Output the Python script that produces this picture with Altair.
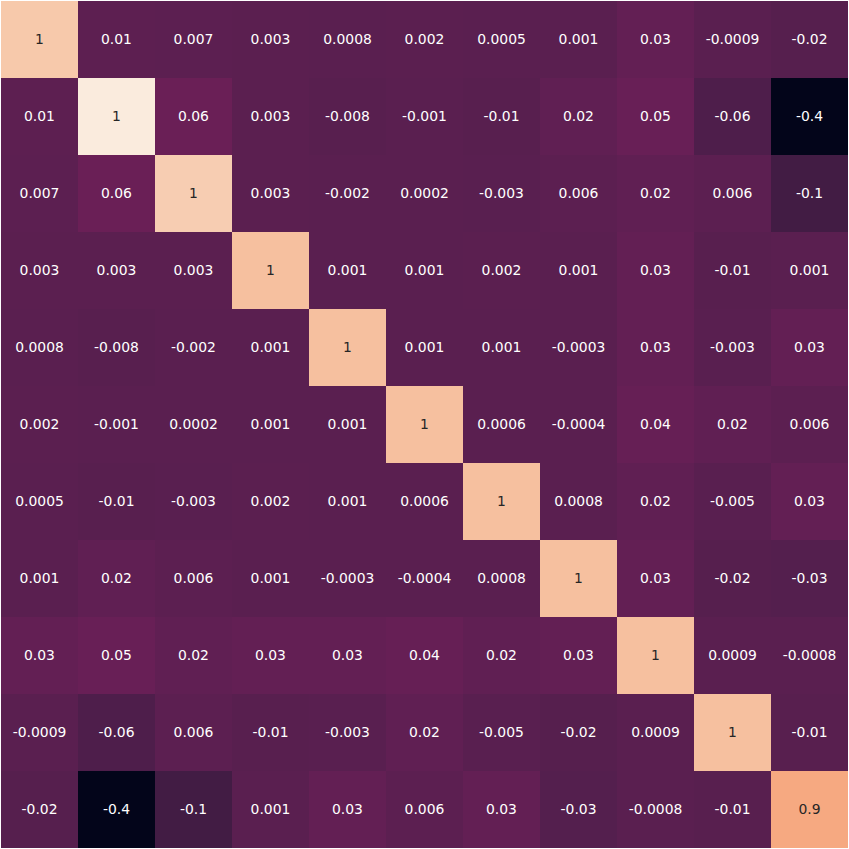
import altair as alt
import pandas as pd

n = 11
row0 = [0.98, 0.01, 0.007, 0.003, 0.0008, 0.002, 0.0005, 0.001, 0.03, -0.0009, -0.02]
row1 = [0.01, 1.02, 0.06, 0.003, -0.008, -0.001, -0.01, 0.02, 0.05, -0.06, -0.4]
row2 = [0.007, 0.06, 0.985, 0.003, -0.002, 0.0002, -0.003, 0.006, 0.02, 0.006, -0.1]
row3 = [0.003, 0.003, 0.003, 0.97, 0.001, 0.001, 0.002, 0.001, 0.03, -0.01, 0.001]
row4 = [0.0008, -0.008, -0.002, 0.001, 0.97, 0.001, 0.001, -0.0003, 0.03, -0.003, 0.03]
row5 = [0.002, -0.001, 0.0002, 0.001, 0.001, 0.97, 0.0006, -0.0004, 0.04, 0.02, 0.006]
row6 = [0.0005, -0.01, -0.003, 0.002, 0.001, 0.0006, 0.97, 0.0008, 0.02, -0.005, 0.03]
row7 = [0.001, 0.02, 0.006, 0.001, -0.0003, -0.0004, 0.0008, 0.97, 0.03, -0.02, -0.03]
row8 = [0.03, 0.05, 0.02, 0.03, 0.03, 0.04, 0.02, 0.03, 0.97, 0.0009, -0.0008]
row9 = [-0.0009, -0.06, 0.006, -0.01, -0.003, 0.02, -0.005, -0.02, 0.0009, 0.97, -0.01]
row10 = [-0.02, -0.4, -0.1, 0.001, 0.03, 0.006, 0.03, -0.03, -0.0008, -0.01, 0.9]
rows = [row0, row1, row2, row3, row4, row5, row6, row7, row8, row9, row10]

# colour scale stops (rocket-like)
stops = [-0.4, -0.1, -0.06, 0.0, 0.04, 0.06, 0.9, 0.97, 1.02]
stop_colors = ["#03051a", "#421c44", "#4e1e4b", "#5a1f50", "#661f55", "#6a1f56",
               "#f6a981", "#f6c09f", "#faebdd"]

recs = []
for i, r in enumerate(rows):
    for j, v in enumerate(r):
        recs.append({"row": i, "col": j, "value": v, "label": format(v, ".1g"),
                     "light": v > 0.5})
df = pd.DataFrame(recs)

x = alt.X("col:O", axis=None, scale=alt.Scale(paddingInner=0, paddingOuter=0))
y = alt.Y("row:O", axis=None, scale=alt.Scale(paddingInner=0, paddingOuter=0))

base = alt.Chart(df).encode(x=x, y=y)
rect = base.mark_rect(strokeWidth=0).encode(
    color=alt.Color("value:Q", legend=None,
                    scale=alt.Scale(type="linear", domain=stops, range=stop_colors,
                                    interpolate="rgb", clamp=True))
)
text = base.mark_text(font="DejaVu Sans", fontSize=13.9, baseline="middle", align="center").encode(
    text="label:N",
    color=alt.condition("datum.light", alt.value("#262626"), alt.value("#ffffff")),
)

chart = (rect + text).properties(
    width=847, height=847,
    padding={"left": 1, "top": 1, "right": 1, "bottom": 1},
    autosize=alt.AutoSizeParams(type="none"),
).configure_view(stroke=None)

chart.save("out.html", embed_options={"renderer": "svg", "actions": False})
